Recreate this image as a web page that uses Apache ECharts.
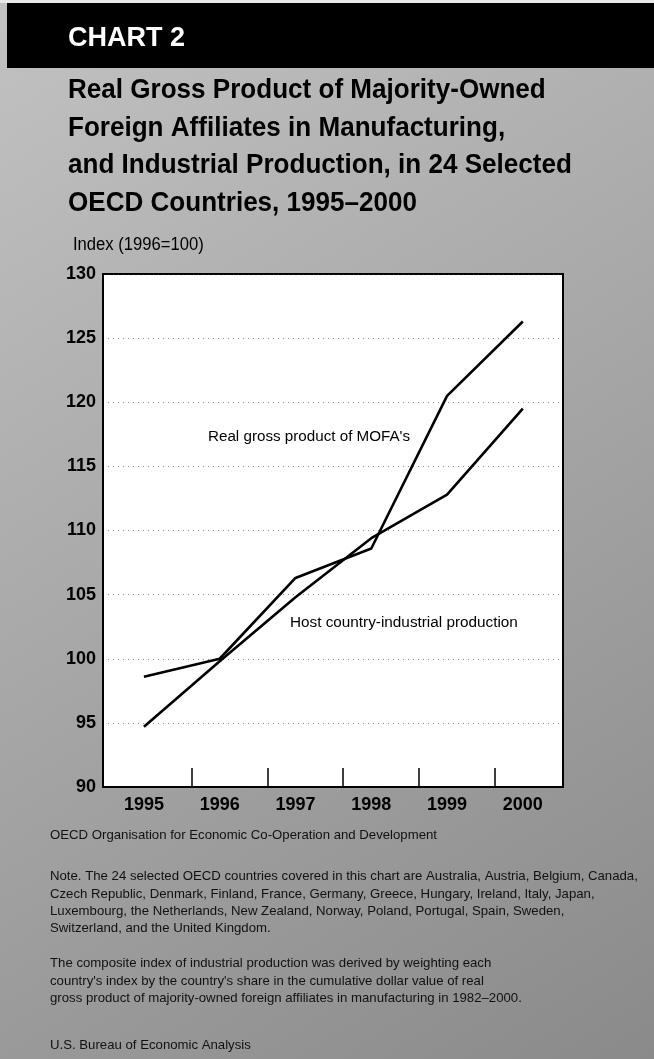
<!DOCTYPE html>
<html>
<head>
<meta charset="utf-8">
<script src="https://cdn.jsdelivr.net/npm/echarts@6/dist/echarts.min.js"></script>
<style>
html,body{margin:0;padding:0;background:#a8a8a8;}
#c{width:654px;height:1059px;}
</style>
</head>
<body>
<div id="c"></div>
<script>
// ---- data ----
const years = [1995, 1996, 1997, 1998, 1999, 2000];
const mofaValues = [98.6, 100.0, 106.3, 108.6, 120.5, 126.3];
const industrialValues = [94.7, 99.8, 104.8, 109.4, 112.8, 119.5];
const xTickPositions = [1995.63, 1996.63, 1997.63, 1998.63, 1999.63];

const headerText = 'CHART 2';
const titleLines = [
  'Real Gross Product of Majority-Owned',
  'Foreign Affiliates in Manufacturing,',
  'and Industrial Production, in 24 Selected',
  'OECD Countries, 1995\u20132000'
];
const unitLabel = 'Index (1996=100)';
const mofaLabel = "Real gross product of MOFA's";
const industrialLabel = 'Host country-industrial production';
const abbreviationLines = [
  'OECD Organisation for Economic Co-Operation and Development'
];
const noteLines = [
  'Note. The 24 selected OECD countries covered in this chart are Australia, Austria, Belgium, Canada,',
  'Czech Republic, Denmark, Finland, France, Germany, Greece, Hungary, Ireland, Italy, Japan,',
  'Luxembourg, the Netherlands, New Zealand, Norway, Poland, Portugal, Spain, Sweden,',
  'Switzerland, and the United Kingdom.'
];
const compositeLines = [
  'The composite index of industrial production was derived by weighting each',
  "country's index by the country's share in the cumulative dollar value of real",
  'gross product of majority-owned foreign affiliates in manufacturing in 1982\u20132000.'
];
const sourceLines = [
  'U.S. Bureau of Economic Analysis'
];

const SANS = "'Liberation Sans', Arial, sans-serif";

const chart = echarts.init(document.getElementById('c'), null, {renderer: 'canvas'});

const graphics = [
  {type: 'rect', shape: {x: 0, y: 0, width: 654, height: 3}, style: {fill: '#e8e8e8'}, z: -1},
  {type: 'rect', shape: {x: 7, y: 3, width: 647, height: 65}, style: {fill: '#000'}},
  {type: 'text', x: 68, y: 25, style: {text: headerText, fill: '#fff', font: "bold 27px " + SANS}}
];
titleLines.forEach((t, i) => {
  graphics.push({type: 'text', x: 68, y: 77 + i * 37.7, scaleX: 0.965,
    style: {text: t, fill: '#000', font: "bold 27px " + SANS}});
});
graphics.push({type: 'text', x: 73, y: 236, scaleX: 0.95, style: {text: unitLabel, fill: '#000', font: "17.5px " + SANS}});
graphics.push({type: 'text', x: 208, y: 429, style: {text: mofaLabel, fill: '#000', font: "15.2px " + SANS}});
graphics.push({type: 'text', x: 290, y: 615, style: {text: industrialLabel, fill: '#000', font: "15.3px " + SANS}});

function addBlock(lines, top) {
  lines.forEach((t, i) => {
    graphics.push({type: 'text', x: 50, y: top + i * 17.4,
      style: {text: t, fill: '#111', font: "13.2px " + SANS}});
  });
}
addBlock(abbreviationLines, 829);
addBlock(noteLines, 870);
addBlock(compositeLines, 957);
addBlock(sourceLines, 1039);

const option = {
  animation: false,
  backgroundColor: {
    type: 'linear', x: 0, y: 0, x2: 1, y2: 1,
    colorStops: [
      {offset: 0, color: '#c2c2c2'},
      {offset: 0.5, color: '#a6a6a6'},
      {offset: 1, color: '#8a8a8a'}
    ]
  },
  grid: {
    left: 103, top: 274, width: 460, height: 513,
    show: true, backgroundColor: '#fff', borderColor: '#000', borderWidth: 2
  },
  xAxis: {
    type: 'value', min: 1994.46, max: 2000.53,
    axisLine: {show: true, onZero: false, lineStyle: {color: '#000', width: 2}},
    axisTick: {show: true, inside: true, length: 19, customValues: xTickPositions,
      lineStyle: {color: '#000', width: 1.5}},
    axisLabel: {customValues: years, margin: 9, color: '#000',
      fontFamily: SANS, fontWeight: 'bold', fontSize: 18, formatter: v => String(v)},
    splitLine: {show: false}
  },
  yAxis: {
    type: 'value', min: 90, max: 130, interval: 5,
    axisLine: {show: true, lineStyle: {color: '#000', width: 2}},
    axisTick: {show: false},
    axisLabel: {margin: 7, color: '#000', fontFamily: SANS, fontWeight: 'bold', fontSize: 18},
    splitLine: {show: true, lineStyle: {color: '#444', width: 1, type: [1, 4], opacity: 0.6}}
  },
  series: [
    {name: mofaLabel, type: 'line', data: years.map((y, i) => [y, mofaValues[i]]),
      symbol: 'none', lineStyle: {color: '#000', width: 2.6}},
    {name: industrialLabel, type: 'line', data: years.map((y, i) => [y, industrialValues[i]]),
      symbol: 'none', lineStyle: {color: '#000', width: 2.6}}
  ],
  graphic: graphics
};
chart.setOption(option);
</script>
</body>
</html>
